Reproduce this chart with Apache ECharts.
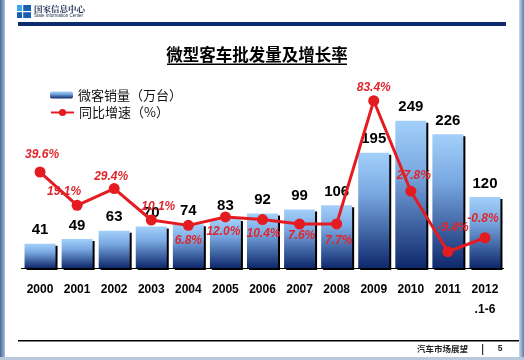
<!DOCTYPE html>
<html><head><meta charset="utf-8">
<script src="https://cdn.jsdelivr.net/npm/echarts@6/dist/echarts.min.js"></script>
<style>html,body{margin:0;padding:0;background:#fff}#c{width:524px;height:360px}</style>
</head><body><div id="c"></div>
<script>
const categories = ['2000','2001','2002','2003','2004','2005','2006','2007','2008','2009','2010','2011','2012\n.1-6'];
const sales = [41,49,63,70,74,83,92,99,106,195,249,226,120];
const growth = [39.6,19.1,29.4,10.1,6.8,12.0,10.4,7.6,7.7,83.4,27.8,-9.4,-0.8];
const seriesNames = ['微客销量（万台）','同比增速（%）'];
const titleText = '微型客车批发量及增长率';
const headerText = '国家信息中心';
const headerSub = 'State Information Center';
const footerText = '汽车市场展望';
const pageNo = '5';

// label placement (layout only)
const labelOffsets = [[2,-17],[-13,-14],[-3,-12],[7,-13],[0,15],[-2,15],[1,14],[2,12],[2,17],[0,-13],[3,-16],[5,-24],[-2,-19]];

const chart = echarts.init(document.getElementById('c'), null, {renderer:'canvas'});
const barGrad = new echarts.graphic.LinearGradient(0,0,0,1,[
  {offset:0,color:'#a3d0fa'},{offset:0.35,color:'#7aa9e2'},{offset:1,color:'#0e286c'}]);
const option = {
  backgroundColor:'#ffffff',
  animation:false,
  grid:{left:21.5,right:20.5,top:90.5,bottom:92},
  legend:[
    {data:[seriesNames[0]],left:45,top:83.5,itemWidth:23,itemHeight:7,
     itemStyle:{shadowOffsetX:0,shadowOffsetY:0,shadowColor:'transparent'},
     textStyle:{fontSize:13,color:'#111',fontFamily:'"Noto Sans CJK SC"'}},
    {data:[seriesNames[1]],left:45,top:101,itemWidth:23,itemHeight:9,
     textStyle:{fontSize:13,color:'#111',fontFamily:'"Noto Sans CJK SC"'}}
  ],
  xAxis:{type:'category',data:categories,
    axisLine:{lineStyle:{color:'#000',width:1.2}},axisTick:{show:false},
    axisLabel:{margin:12,color:'#000',fontWeight:'bold',fontSize:12,fontFamily:'"Liberation Sans", Arial',lineHeight:20,interval:0}},
  yAxis:[
    {type:'value',min:0,max:300,show:false,splitLine:{show:false}},
    {type:'value',min:-19.4,max:89.7,show:false,splitLine:{show:false}}
  ],
  series:[
    {name:seriesNames[0],type:'bar',yAxisIndex:0,data:sales,barWidth:31,
     itemStyle:{color:barGrad,shadowColor:'#000',shadowBlur:0,shadowOffsetX:2,shadowOffsetY:2},
     label:{show:true,position:'top',distance:6,color:'#000',fontWeight:'bold',fontSize:15,fontFamily:'"Liberation Sans", Arial'},
     z:2},
    {name:seriesNames[1],type:'line',yAxisIndex:1,
     data:growth.map((v,i)=>({value:v,label:{offset:labelOffsets[i]}})),
     color:'#e41c22',lineStyle:{width:3,color:'#e41c22'},
     symbol:'circle',symbolSize:11,itemStyle:{color:'#e41c22'},
     label:{show:true,position:'inside',align:'center',verticalAlign:'middle',
       formatter:p=>p.value.toFixed(1)+'%',color:'#e0262c',fontStyle:'italic',fontWeight:'bold',fontSize:12,fontFamily:'"Liberation Sans", Arial'},
     z:3}
  ],
  graphic:[
    {type:'rect',shape:{x:0,y:0,width:5,height:360},style:{fill:new echarts.graphic.LinearGradient(0,0,1,0,[{offset:0,color:'#46699a'},{offset:1,color:'#a6bcd8'}])},silent:true},
    {type:'rect',shape:{x:519,y:0,width:5,height:360},style:{fill:new echarts.graphic.LinearGradient(0,0,1,0,[{offset:0,color:'#d0dbe8'},{offset:1,color:'#5a7ca8'}])},silent:true},
    {type:'rect',shape:{x:0,y:357,width:524,height:3},style:{fill:'#b9c9dd'},silent:true},
    // header logo
    {type:'rect',shape:{x:17,y:5,width:14,height:13},style:{fill:'#1a5fb0'},silent:true},
    {type:'rect',shape:{x:17,y:5,width:5,height:6},style:{fill:'#3aa8e8'},silent:true},
    {type:'rect',shape:{x:17,y:11,width:14,height:1.2},style:{fill:'#fff'},silent:true},
    {type:'rect',shape:{x:22,y:5,width:1.2,height:13},style:{fill:'#fff'},silent:true},
    {type:'text',style:{text:headerText,x:34,y:8.5,textVerticalAlign:'middle',font:'bold 8.5px "Noto Serif CJK SC","Noto Sans CJK SC"',fill:'#1a2a50'},silent:true},
    {type:'text',style:{text:headerSub,x:34,y:15.5,textVerticalAlign:'middle',font:'4.5px "Liberation Sans"',fill:'#1a2a50'},silent:true},
    {type:'rect',shape:{x:18,y:22,width:488,height:4},style:{fill:'#0c2c6e'},silent:true},
    // title
    {type:'text',style:{text:titleText,x:257,y:54.5,textAlign:'center',textVerticalAlign:'middle',font:'bold 16.5px "Noto Sans CJK SC"',fill:'#000'},silent:true},
    {type:'rect',shape:{x:167,y:63.5,width:180,height:1.6},style:{fill:'#000'},silent:true},
    // footer
    {type:'rect',shape:{x:18,y:340,width:501,height:1.5},style:{fill:'#000'},silent:true},
    {type:'text',style:{text:footerText,x:468,y:349,textAlign:'right',textVerticalAlign:'middle',font:'bold 8.5px "Noto Sans CJK SC"',fill:'#222'},silent:true},
    {type:'rect',shape:{x:482,y:344,width:1.2,height:11},style:{fill:'#333'},silent:true},
    {type:'text',style:{text:pageNo,x:500,y:349,textAlign:'center',textVerticalAlign:'middle',font:'bold 8.5px "Liberation Sans"',fill:'#222'},silent:true}
  ]
};
chart.setOption(option);
</script>
</body></html>
